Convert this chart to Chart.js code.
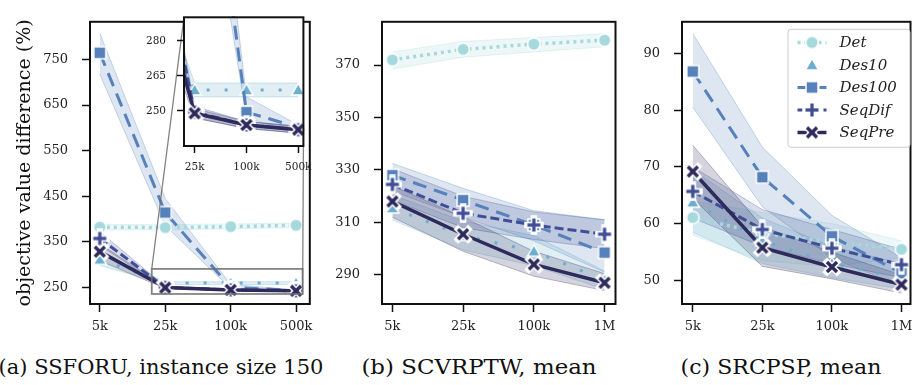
<!DOCTYPE html>
<html>
<head>
<meta charset="utf-8">
<script src="https://cdn.jsdelivr.net/npm/chart.js@4.4.1/dist/chart.umd.min.js"></script>
<style>
body { margin: 0; background: #fff; width: 917px; height: 385px; overflow: hidden; position: relative; font-family: 'DejaVu Serif', serif; }
canvas { position: absolute; }
.cap { position: absolute; top: 355px; font-size: 21px; line-height: 1.164; color: #111; white-space: nowrap; }
</style>
</head>
<body>
<canvas id="pa" width="320" height="340" style="left:0px;top:0px"></canvas>
<canvas id="pin" width="180" height="180" style="left:140px;top:0px"></canvas>
<canvas id="pb" width="305" height="340" style="left:320px;top:0px"></canvas>
<canvas id="pc" width="295" height="340" style="left:625px;top:0px"></canvas>
<div class="cap" style="left:161px;transform:translateX(-50%) scaleX(1.0)">(a) SSFORU, instance size 150</div>
<div class="cap" style="left:479px;transform:translateX(-50%) scaleX(1.09)">(b) SCVRPTW, mean</div>
<div class="cap" style="left:781px;transform:translateX(-50%) scaleX(1.05)">(c) SRCPSP, mean</div>
<script>
// categories / labels
var catsA = ['5k', '25k', '100k', '500k'];
var catsBC = ['5k', '25k', '100k', '1M'];
var names = ['Det', 'Des10', 'Des100', 'SeqDif', 'SeqPre'];
var yTicksA = [250, 350, 450, 550, 650, 750];
var yTicksIn = [250, 265, 280];
var yTicksB = [290, 310, 330, 350, 370];
var yTicksC = [50, 60, 70, 80, 90];

// (a) SSFORU, instance size 150
var detA = [382, 381, 383, 386];
var detALo = [376, 376, 378, 381];
var detAHi = [388, 387, 389, 391];
var des10A = [311, 259, 259, 259];
var des10ALo = [298, 256, 256, 256];
var des10AHi = [324, 262, 262, 262];
var des100A = [765, 414, 249.5, 243];
var des100ALo = [718, 385, 247, 240.5];
var des100AHi = [808, 445, 256, 244];
var seqDifA = [357, 249.5, 244, 242];
var seqDifALo = [342, 247, 242.5, 240.5];
var seqDifAHi = [372, 252, 245.5, 243.5];
var seqPreA = [328, 249, 244, 242];
var seqPreALo = [308, 247, 242.5, 240.5];
var seqPreAHi = [345, 251, 245.5, 243.5];

// (b) SCVRPTW, mean
var detB = [372, 376, 378, 379.5];
var detBLo = [368.5, 373, 375, 377];
var detBHi = [375, 379, 380.5, 382];
var des10B = [315.5, 305, 299, 288];
var des10BLo = [311, 299.5, 293.5, 284.5];
var des10BHi = [320.5, 310.5, 305, 291.5];
var des100B = [328, 318.5, 309, 298.5];
var des100BLo = [322, 312, 303, 291];
var des100BHi = [332.5, 323, 314.5, 311];
var seqDifB = [324.5, 313.5, 309, 305.5];
var seqDifBLo = [318.5, 308, 303.5, 300];
var seqDifBHi = [330.5, 320, 314, 311];
var seqPreB = [318, 305.5, 294, 287];
var seqPreBLo = [312, 299, 289.5, 284];
var seqPreBHi = [324, 312, 299, 290.5];

// (c) SRCPSP, mean
var detC = [61.1, 58.3, 56.8, 55.5];
var detCLo = [58, 53.5, 52.5, 54];
var detCHi = [64, 62, 60, 57];
var des10C = [63.8, 57, 53, 50.5];
var des10CLo = [58.5, 53, 50.5, 48.5];
var des10CHi = [69.5, 61, 56, 53];
var des100C = [86.8, 68.2, 57.8, 51.3];
var des100CLo = [80.5, 63, 54, 49];
var des100CHi = [93.5, 73.5, 61.5, 54];
var seqDifC = [65.7, 59, 55.7, 52.8];
var seqDifCLo = [61, 56, 53, 50.5];
var seqDifCHi = [70, 62.5, 59, 55.5];
var seqPreC = [69.2, 55.8, 52.4, 49.3];
var seqPreCLo = [64.5, 52.5, 50.3, 47.8];
var seqPreCHi = [73.8, 59.5, 55, 51];

// styles
var colors = ['#a5d9dc', '#6baecd', '#5681bb', '#404e96', '#2e2a5c'];
var dashes = [[3, 4], [3, 15], [14, 8], [9, 4], []];
var widths = [3.5, 3, 3, 3, 3.5];
var kinds = ['circle', 'triangle', 'square', 'plus', 'x'];

Chart.defaults.font.family = "'DejaVu Serif', serif";
Chart.defaults.color = '#222';

function rgba(hex, a) {
    var n = parseInt(hex.slice(1), 16);
    return 'rgba(' + (n >> 16) + ',' + ((n >> 8) & 255) + ',' + (n & 255) + ',' + a + ')';
}

function makeMarker(kind, color) {
    var c = document.createElement('canvas');
    c.width = 20; c.height = 20;
    var g = c.getContext('2d');
    g.translate(10, 10);
    g.fillStyle = color;
    g.strokeStyle = '#fff';
    g.lineWidth = 1.5;
    if (kind === 'circle') {
        g.beginPath(); g.arc(0, 0, 6.3, 0, Math.PI * 2); g.fill(); g.stroke();
    } else if (kind === 'triangle') {
        g.beginPath(); g.moveTo(0, -6.5); g.lineTo(6.5, 5); g.lineTo(-6.5, 5); g.closePath(); g.fill(); g.stroke();
    } else if (kind === 'square') {
        g.beginPath(); g.rect(-6, -6, 12, 12); g.fill(); g.stroke();
    } else {
        var segs = kind === 'plus' ? [[-6.5, 0, 6.5, 0], [0, -6.5, 0, 6.5]] : [[-5, -5, 5, 5], [-5, 5, 5, -5]];
        var pass = [['#fff', 6.5, 'square'], [color, 3.3, 'butt']];
        pass.forEach(function(p) {
            g.strokeStyle = p[0]; g.lineWidth = p[1]; g.lineCap = p[2];
            segs.forEach(function(s) {
                g.beginPath(); g.moveTo(s[0], s[1]); g.lineTo(s[2], s[3]); g.stroke();
            });
        });
    }
    return c;
}
var markers = kinds.map(function(k, i) { return makeMarker(k, colors[i]); });

function pts(arr) {
    return arr.map(function(v, i) { return {x: i, y: v}; });
}

function buildSets(means, los, his) {
    var sets = [];
    for (var i = 0; i < 5; i++) {
        var col = colors[i];
        sets.push({data: pts(his[i]), borderColor: rgba(col, 0.3), borderWidth: 1, pointRadius: 0, fill: false, order: 30 - i, clip: 1});
        sets.push({data: pts(los[i]), borderColor: rgba(col, 0.3), borderWidth: 1, pointRadius: 0, fill: '-1', backgroundColor: rgba(col, 0.2), order: 30 - i, clip: 1});
        sets.push({data: pts(means[i]), borderColor: col, borderWidth: widths[i], borderDash: dashes[i],
            pointStyle: markers[i], pointRadius: 6, fill: false, order: 5 - i, clip: 1});
    }
    return sets;
}

var framePlugin = {
    id: 'frame',
    afterDraw: function(chart) {
        var a = chart.chartArea, ctx = chart.ctx;
        ctx.save();
        ctx.strokeStyle = '#111';
        ctx.lineWidth = 2;
        ctx.strokeRect(a.left, a.top, a.right - a.left, a.bottom - a.top);
        ctx.restore();
    }
};

var whitePlugin = {
    id: 'whiteBg',
    beforeDatasetsDraw: function(chart) {
        var a = chart.chartArea, ctx = chart.ctx;
        ctx.save();
        ctx.fillStyle = '#fff';
        ctx.fillRect(a.left, a.top, a.right - a.left, a.bottom - a.top);
        ctx.restore();
    }
};

function makeOptions(o) {
    return {
        responsive: false,
        animation: false,
        events: [],
        layout: {padding: o.pad},
        plugins: {legend: {display: false}, tooltip: {enabled: false}},
        scales: {
            x: {
                type: 'linear', min: o.xmin, max: o.xmax,
                afterBuildTicks: function(s) { s.ticks = o.xt.map(function(v) { return {value: v}; }); },
                afterFit: function(s) { s.height = o.xh; },
                ticks: {font: {size: o.fs}, padding: o.xpad, maxRotation: 0,
                    callback: function(v) { return o.cats[Math.round(v)]; }},
                grid: {drawOnChartArea: false, tickLength: o.tl, tickWidth: 1.5, tickColor: '#111'},
                border: {display: false}
            },
            y: {
                type: 'linear', min: o.ymin, max: o.ymax,
                afterBuildTicks: function(s) { s.ticks = o.yt.map(function(v) { return {value: v}; }); },
                afterFit: function(s) { s.width = o.yw; },
                ticks: {font: {size: o.fs}, padding: o.ypad},
                grid: {drawOnChartArea: false, tickLength: o.tl, tickWidth: 1.5, tickColor: '#111'},
                border: {display: false},
                title: o.title ? {display: true, text: o.title, font: {size: 19}, color: '#111', padding: {top: 14, bottom: 0}} : {display: false}
            }
        }
    };
}

// inset of panel (a)
var insetX = [0.794, 3.1];
var insetY = [235, 290.1];
var inset = new Chart(document.getElementById('pin'), {
    type: 'line',
    data: {datasets: buildSets([detA, des10A, des100A, seqDifA, seqPreA],
        [detALo, des10ALo, des100ALo, seqDifALo, seqPreALo],
        [detAHi, des10AHi, des100AHi, seqDifAHi, seqPreAHi])},
    options: makeOptions({pad: {top: 11, right: 13, left: 0, bottom: 0}, xmin: insetX[0], xmax: insetX[1], xt: [1, 2, 3],
        xh: 34, fs: 10.5, xpad: 8, ypad: 11, tl: 7, cats: catsA, ymin: insetY[0], ymax: insetY[1], yt: yTicksIn, yw: 44}),
    plugins: [whitePlugin, framePlugin]
});

var zoomPlugin = {
    id: 'zoomBox',
    afterDatasetsDraw: function(chart) {
        var xs = chart.scales.x, ys = chart.scales.y, ctx = chart.ctx;
        var l = xs.getPixelForValue(insetX[0]), r = xs.getPixelForValue(insetX[1]);
        var t = ys.getPixelForValue(insetY[1]), b = ys.getPixelForValue(insetY[0]);
        var ia = inset.chartArea, ox = 140, oy = 0;
        ctx.save();
        ctx.strokeStyle = 'rgba(110,110,110,0.85)';
        ctx.lineWidth = 1.8;
        ctx.strokeRect(l, t, r - l, b - t);
        ctx.lineWidth = 1.3;
        ctx.beginPath();
        ctx.moveTo(l, t); ctx.lineTo(ia.left + ox, ia.top + oy);
        ctx.moveTo(r, b); ctx.lineTo(ia.right + ox, ia.bottom + oy);
        ctx.stroke();
        ctx.restore();
    }
};

new Chart(document.getElementById('pa'), {
    type: 'line',
    data: {datasets: buildSets([detA, des10A, des100A, seqDifA, seqPreA],
        [detALo, des10ALo, des100ALo, seqDifALo, seqPreALo],
        [detAHi, des10AHi, des100AHi, seqDifAHi, seqPreAHi])},
    options: makeOptions({pad: {top: 5, right: 5, left: 0, bottom: 0}, xmin: -0.15, xmax: 3.21, xt: [0, 1, 2, 3],
        xh: 36, fs: 13, xpad: 7, ypad: 14, tl: 8, cats: catsA, ymin: 213, ymax: 833, yt: yTicksA, yw: 90,
        title: 'objective value difference (%)'}),
    plugins: [zoomPlugin, framePlugin]
});

new Chart(document.getElementById('pb'), {
    type: 'line',
    data: {datasets: buildSets([detB, des10B, des100B, seqDifB, seqPreB],
        [detBLo, des10BLo, des100BLo, seqDifBLo, seqPreBLo],
        [detBHi, des10BHi, des100BHi, seqDifBHi, seqPreBHi])},
    options: makeOptions({pad: {top: 6, right: 2, left: 0, bottom: 0}, xmin: -0.147, xmax: 3.155, xt: [0, 1, 2, 3],
        xh: 36, fs: 13, xpad: 7, ypad: 14, tl: 8, cats: catsBC, ymin: 278.9, ymax: 386.5, yt: yTicksB, yw: 62}),
    plugins: [framePlugin]
});

var legendPlugin = {
    id: 'legendBox',
    afterDraw: function(chart) {
        var a = chart.chartArea, ctx = chart.ctx;
        var x0 = a.right - 123, y0 = a.top + 7, w = 122, h = 118;
        ctx.save();
        ctx.beginPath();
        ctx.roundRect(x0 + 0.5, y0 + 0.5, w, h, 3);
        ctx.fillStyle = 'rgba(255,255,255,0.85)';
        ctx.fill();
        ctx.strokeStyle = '#cccccc';
        ctx.lineWidth = 1;
        ctx.stroke();
        for (var i = 0; i < names.length; i++) {
            var y = y0 + 13.7 + i * 22.5;
            if (i !== 1) {
                ctx.beginPath();
                ctx.setLineDash(dashes[i]);
                ctx.strokeStyle = colors[i];
                ctx.lineWidth = widths[i];
                ctx.moveTo(x0 + 10, y); ctx.lineTo(x0 + 39, y);
                ctx.stroke();
                ctx.setLineDash([]);
            }
            ctx.drawImage(markers[i], x0 + 24.5 - 10, y - 10);
            ctx.fillStyle = '#222';
            ctx.font = "italic 15px 'DejaVu Serif'";
            ctx.textBaseline = 'middle';
            ctx.fillText(names[i], x0 + 52, y + 1);
        }
        ctx.restore();
    }
};

new Chart(document.getElementById('pc'), {
    type: 'line',
    data: {datasets: buildSets([detC, des10C, des100C, seqDifC, seqPreC],
        [detCLo, des10CLo, des100CLo, seqDifCLo, seqPreCLo],
        [detCHi, des10CHi, des100CHi, seqDifCHi, seqPreCHi])},
    options: makeOptions({pad: {top: 6, right: 4, left: 0, bottom: 0}, xmin: -0.155, xmax: 3.13, xt: [0, 1, 2, 3],
        xh: 36, fs: 13, xpad: 7, ypad: 14, tl: 8, cats: catsBC, ymin: 45.88, ymax: 95.55, yt: yTicksC, yw: 57}),
    plugins: [framePlugin, legendPlugin]
});
</script>
</body>
</html>
